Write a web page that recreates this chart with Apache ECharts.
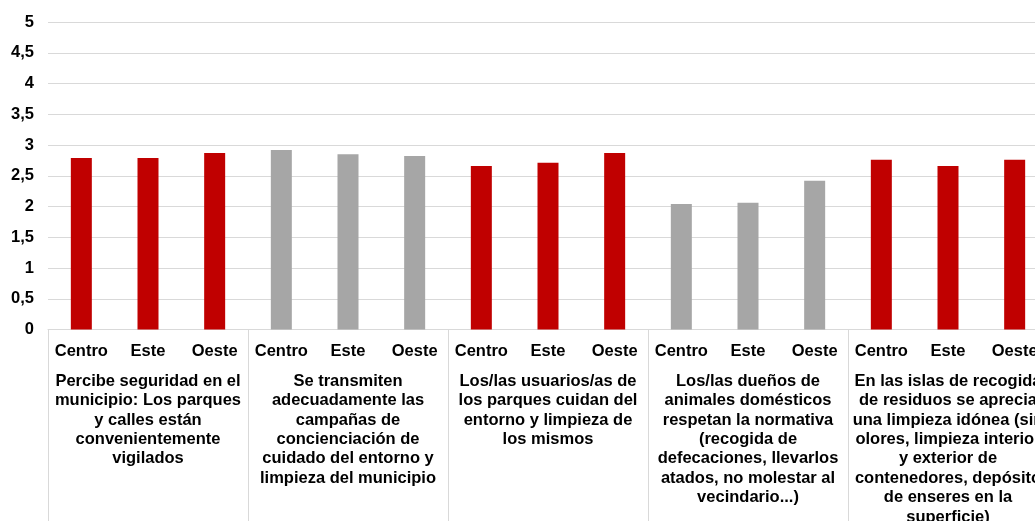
<!DOCTYPE html>
<html>
<head>
<meta charset="utf-8">
<script src="https://cdn.jsdelivr.net/npm/echarts@6/dist/echarts.min.js"></script>
<style>
html,body{margin:0;padding:0;background:#fff;}
#chart{width:1035px;height:521px;}
</style>
</head>
<body>
<div id="chart"></div>
<script>
const regions = ['Centro', 'Este', 'Oeste'];
const topics = [
  'Percibe seguridad en el\nmunicipio: Los parques\ny calles están\nconvenientemente\nvigilados',
  'Se transmiten\nadecuadamente las\ncampañas de\nconcienciación de\ncuidado del entorno y\nlimpieza del municipio',
  'Los/las usuarios/as de\nlos parques cuidan del\nentorno y limpieza de\nlos mismos',
  'Los/las dueños de\nanimales domésticos\nrespetan la normativa\n(recogida de\ndefecaciones, llevarlos\natados, no molestar al\nvecindario...)',
  'En las islas de recogida\nde residuos se aprecia\nuna limpieza idónea (sin\nolores, limpieza interior\ny exterior de\ncontenedores, depósito\nde enseres en la\nsuperficie)'
];
const seguridad = [2.79, 2.79, 2.87];
const campanas = [2.92, 2.85, 2.82];
const usuarios = [2.66, 2.71, 2.87];
const animales = [2.04, 2.06, 2.42];
const islas = [2.76, 2.66, 2.76];
const yTicks = [0, 0.5, 1, 1.5, 2, 2.5, 3, 3.5, 4, 4.5, 5];

const groups = [seguridad, campanas, usuarios, animales, islas];
const cats = [];
const vals = [];
groups.forEach((g, gi) => {
  g.forEach((v, ri) => {
    cats.push(regions[ri]);
    vals.push({ value: v, group: gi });
  });
});

const RED = '#C00000', GRAY = '#A6A6A6';
const font = 'Liberation Sans, Arial, sans-serif';
const FS = 16.5;

const chart = echarts.init(document.getElementById('chart'), null, { renderer: 'canvas' });
chart.setOption({
  animation: false,
  backgroundColor: '#fff',
  grid: { left: 48, right: -13, top: 22, bottom: 191.5, containLabel: false, outerBoundsMode: 'none' },
  xAxis: [
    {
      type: 'category',
      data: cats,
      position: 'bottom',
      axisLine: { show: true, lineStyle: { color: '#D9D9D9', width: 1 } },
      axisTick: { show: false },
      axisLabel: {
        interval: 0, margin: 13,
        color: '#000', fontFamily: font, fontWeight: 'bold', fontSize: FS
      }
    },
    {
      type: 'category',
      data: topics,
      position: 'bottom',
      boundaryGap: true,
      axisLine: { show: false },
      axisTick: { show: true, interval: 0, length: 200, lineStyle: { color: '#D9D9D9', width: 1 } },
      axisLabel: {
        interval: 0, margin: 42,
        color: '#000', fontFamily: font, fontWeight: 'bold', fontSize: FS,
        lineHeight: 19.4, align: 'center'
      }
    }
  ],
  yAxis: {
    type: 'value',
    min: 0, max: 5, interval: 0.5,
    axisLine: { show: false },
    axisTick: { show: false },
    splitLine: { lineStyle: { color: '#D9D9D9', width: 1 } },
    axisLabel: {
      margin: 14,
      color: '#000', fontFamily: font, fontWeight: 'bold', fontSize: FS,
      formatter: v => yTicks.includes(v) ? String(v).replace('.', ',') : ''
    }
  },
  series: [{
    type: 'bar',
    xAxisIndex: 0,
    data: vals,
    barWidth: 21,
    itemStyle: {
      color: p => (p.data.group % 2 === 0 ? RED : GRAY)
    }
  }]
});
</script>
</body>
</html>
